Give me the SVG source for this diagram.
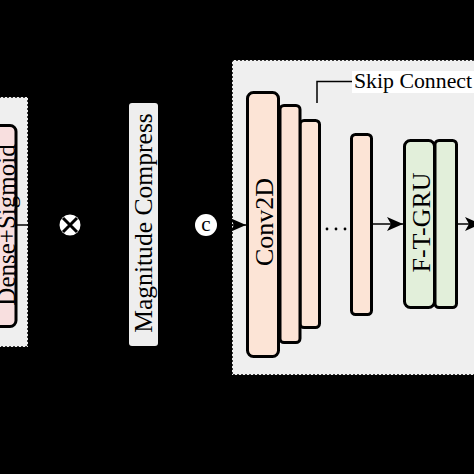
<svg xmlns="http://www.w3.org/2000/svg" width="474" height="474" viewBox="0 0 474 474">
<defs>
<style>
.region{fill:#efefef;stroke:#000;stroke-width:1.5;stroke-dasharray:2 2}
.blk{stroke:#000;stroke-width:3}
.conv{fill:#fce4d6}
.gru{fill:#e2efda}
.lbl{font-family:"Liberation Serif","Times New Roman",serif;font-size:26px;fill:#000}
.wire{stroke:#000;stroke-width:1.5;fill:none}
</style>
<marker id="ah" markerWidth="16" markerHeight="14" refX="16" refY="7" orient="auto" markerUnits="userSpaceOnUse">
<path d="M0,0 L16,7 L0,14 L4,7 Z" fill="#000"/>
</marker>
</defs>
<rect width="474" height="474" fill="#000"/>
<g id="left-panel">
<rect class="region" x="-5" y="97" width="33" height="250"/>
</g>
<g id="dense-sigmoid">
<rect class="blk" x="-10" y="125.5" width="26" height="201" rx="6" fill="#f8dfdf"/>
<text class="lbl" transform="translate(14.5,225) rotate(-90)" text-anchor="middle" style="font-size:25px">Dense+Sigmoid</text>
</g>
<g id="multiply">
<circle cx="70" cy="225" r="10.5" fill="#fff"/>
<path d="M63,218 L77,232 M77,218 L63,232" stroke="#000" stroke-width="3"/>
</g>
<g id="magnitude-compress">
<rect x="129" y="103" width="29" height="243" rx="3" fill="#eeeeee"/>
<text class="lbl" transform="translate(152,223) rotate(-90)" text-anchor="middle" style="font-size:25.6px">Magnitude Compress</text>
</g>
<g id="concat">
<circle cx="206" cy="225" r="11" fill="#fff"/>
<text x="206" y="231" font-family="Liberation Serif, serif" font-size="21" text-anchor="middle">c</text>
</g>
<g id="encoder-panel">
<rect class="region" x="232" y="60" width="250" height="315"/>
<rect x="352" y="71" width="130" height="22" fill="#fff"/>
<text x="354" y="88" font-family="Liberation Serif, serif" font-size="21.8">Skip Connect</text>
</g>
<g id="conv3"><rect class="blk conv" x="300" y="120.5" width="19.5" height="207" rx="4"/></g>
<g id="conv2"><rect class="blk conv" x="280" y="105.5" width="20" height="237" rx="4"/></g>
<g id="conv2d">
<rect class="blk conv" x="247.5" y="92.5" width="31" height="264" rx="6"/>
<text class="lbl" transform="translate(273,222) rotate(-90)" text-anchor="middle">Conv2D</text>
</g>
<g id="conv-last"><rect class="blk conv" x="351.5" y="134.5" width="20" height="180" rx="4"/></g>
<g id="gru2"><rect class="blk gru" x="435" y="140.5" width="21.5" height="167" rx="4"/></g>
<g id="ft-gru">
<rect class="blk gru" x="404.5" y="140.5" width="30" height="167" rx="6"/>
<text class="lbl" transform="translate(429.5,222.5) rotate(-90)" text-anchor="middle">F-T-GRU</text>
</g>
<g id="dots">
<circle cx="327" cy="229" r="1.4" fill="#000"/>
<circle cx="336" cy="229" r="1.4" fill="#000"/>
<circle cx="345" cy="229" r="1.4" fill="#000"/>
</g>
<g id="connectors">
<path class="wire" d="M16,225 L59,225"/>
<path class="wire" d="M217,225 L246,225" marker-end="url(#ah)"/>
<path class="wire" d="M373,224 L403,224" marker-end="url(#ah)"/>
<path class="wire" d="M458,224 L481,224" marker-end="url(#ah)"/>
<path class="wire" d="M317,103 L317,81.5 L352,81.5"/>
</g>
</svg>
